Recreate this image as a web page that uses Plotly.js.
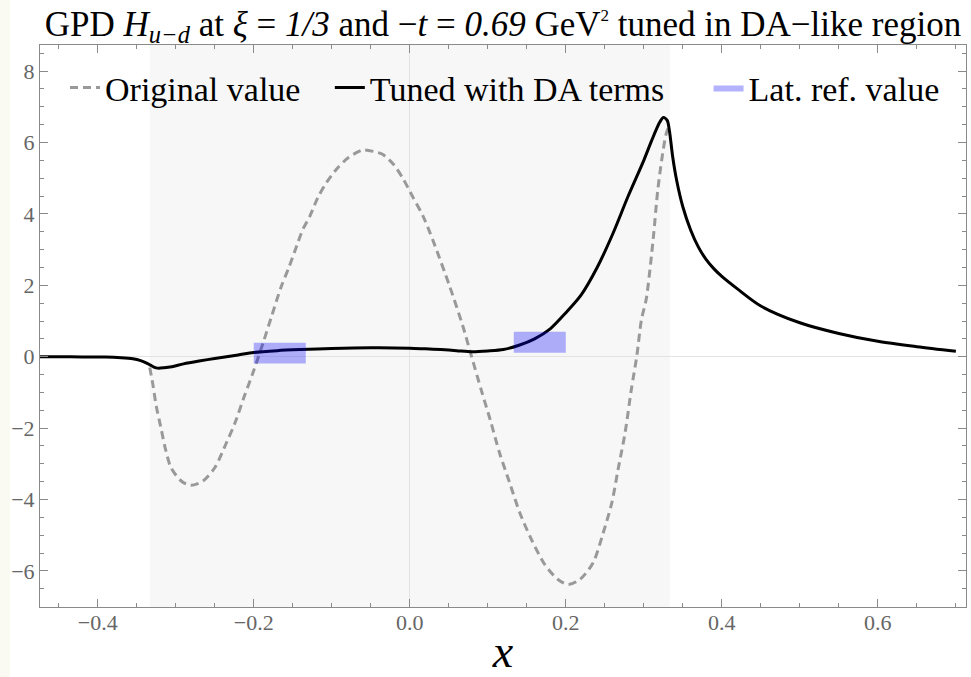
<!DOCTYPE html>
<html>
<head>
<meta charset="utf-8">
<script src="https://cdn.plot.ly/plotly-3.0.1.min.js"></script>
<style>
html,body{margin:0;padding:0;background:#ffffff;}
#chart{width:971px;height:677px;}
</style>
</head>
<body>
<div id="chart"></div>
<script>
// Tuned with DA terms (solid black)
const xTuned = [-0.474, -0.45, -0.42, -0.39, -0.37, -0.355, -0.345, -0.338, -0.333, -0.328, -0.323, -0.315, -0.305, -0.29, -0.27, -0.25, -0.22, -0.20, -0.17, -0.14, -0.10, -0.05, 0.0, 0.02, 0.04, 0.06, 0.08, 0.10, 0.12, 0.14, 0.16, 0.18, 0.20, 0.22, 0.24, 0.26, 0.28, 0.30, 0.31, 0.32, 0.325, 0.33, 0.333, 0.337, 0.342, 0.35, 0.36, 0.37, 0.38, 0.39, 0.40, 0.42, 0.45, 0.50, 0.55, 0.60, 0.65, 0.70];
const yTuned = [0.0, 0.0, -0.005, -0.01, -0.03, -0.06, -0.11, -0.17, -0.23, -0.29, -0.32, -0.31, -0.28, -0.20, -0.12, -0.05, 0.05, 0.12, 0.17, 0.20, 0.23, 0.25, 0.24, 0.22, 0.20, 0.17, 0.14, 0.16, 0.20, 0.32, 0.50, 0.78, 1.23, 1.74, 2.49, 3.43, 4.50, 5.50, 6.05, 6.55, 6.70, 6.62, 6.30, 5.60, 4.95, 4.20, 3.55, 3.07, 2.72, 2.46, 2.25, 1.90, 1.42, 0.95, 0.65, 0.43, 0.28, 0.15];

// Original value (dashed gray)
const xOrig = [-0.3333, -0.329, -0.325, -0.319, -0.313, -0.306, -0.293, -0.281, -0.265, -0.25, -0.235, -0.224, -0.212, -0.201, -0.188, -0.177, -0.165, -0.155, -0.145, -0.137, -0.128, -0.118, -0.107, -0.094, -0.079, -0.06, -0.045, -0.035, -0.021, -0.009, 0.004, 0.017, 0.03, 0.051, 0.068, 0.079, 0.092, 0.103, 0.115, 0.128, 0.141, 0.156, 0.173, 0.19, 0.203, 0.218, 0.235, 0.248, 0.259, 0.267, 0.276, 0.284, 0.291, 0.297, 0.303, 0.312, 0.318, 0.325, 0.329, 0.3333];
const yOrig = [-0.30, -0.82, -1.38, -1.99, -2.60, -3.11, -3.48, -3.60, -3.48, -3.11, -2.41, -1.85, -1.10, -0.45, 0.39, 1.14, 1.95, 2.50, 3.10, 3.57, 3.94, 4.45, 4.87, 5.25, 5.57, 5.79, 5.74, 5.67, 5.39, 5.00, 4.47, 3.94, 3.24, 1.98, 0.86, 0.02, -0.96, -1.76, -2.69, -3.53, -4.37, -5.12, -5.82, -6.24, -6.38, -6.24, -5.77, -4.93, -4.09, -3.16, -2.13, -0.92, 0.02, 1.04, 1.60, 3.29, 4.69, 5.81, 6.27, 6.50];

// Lattice reference values (boxes)
const latXLow  = [-0.2, 0.1333];
const latXHigh = [-0.1333, 0.2];
const latYLow  = [-0.19, 0.11];
const latYHigh = [0.39, 0.70];

// DA-like region bounds
const regionBounds = [-1/3, 1/3];

const xTickVals = [-0.4, -0.2, 0.0, 0.2, 0.4, 0.6];
const xTickText = ['\u22120.4', '\u22120.2', '0.0', '0.2', '0.4', '0.6'];
const yTickVals = [-6, -4, -2, 0, 2, 4, 6, 8];
const yTickText = ['\u22126', '\u22124', '\u22122', '0', '2', '4', '6', '8'];

const serif = 'Liberation Serif';
const legendFont = {family: serif, size: 34, color: '#000'};

const traces = [
  {x: xOrig, y: yOrig, type: 'scatter', mode: 'lines', name: 'Original value',
   line: {color: '#999999', width: 3, dash: '8px,5px', shape: 'spline', smoothing: 0.8},
   legend: 'legend'},
  {x: xTuned, y: yTuned, type: 'scatter', mode: 'lines', name: 'Tuned with DA terms',
   line: {color: '#000000', width: 3, shape: 'spline', smoothing: 0.8},
   legend: 'legend2'}
];
for (let i = 0; i < latXLow.length; i++) {
  traces.push({
    x: [latXLow[i], latXHigh[i], latXHigh[i], latXLow[i], latXLow[i]],
    y: [latYLow[i], latYLow[i], latYHigh[i], latYHigh[i], latYLow[i]],
    type: 'scatter', mode: 'lines', fill: 'toself',
    fillcolor: 'rgba(0,0,255,0.3)', line: {width: 0, color: 'rgba(0,0,255,0.3)'},
    name: 'Lat. ref. value', legendgroup: 'lat', showlegend: i === 0,
    legend: 'legend3'
  });
}

const axisCommon = {
  showline: true, linecolor: '#8a8a8a', linewidth: 1, mirror: 'allticks',
  ticks: 'inside', ticklen: 8, tickwidth: 1, tickcolor: '#8a8a8a',
  showgrid: false, tickfont: {family: serif, size: 22, color: '#666666'}
};

const legY = 0.9235;
const layout = {
  width: 971, height: 677,
  paper_bgcolor: '#ffffff', plot_bgcolor: '#ffffff',
  margin: {l: 40, r: 5, t: 45, b: 70},
  title: {
    text: 'GPD <i>H</i><sub><i>u\u2212d</i></sub> at <i>\u03be</i> = <i>1/3</i> and \u2212<i>t</i> = <i>0.69</i> GeV<sup><span style="font-size:17px">2</span></sup> tuned in DA\u2212like region',
    font: {family: serif, size: 35, color: '#000'},
    x: 0.5, xref: 'paper', xanchor: 'center', y: 0.965, yref: 'container', yanchor: 'middle'
  },
  xaxis: Object.assign({}, axisCommon, {
    range: [-0.474, 0.713], tickvals: xTickVals, ticktext: xTickText,
    minor: {dtick: 0.05, ticklen: 4, tickcolor: '#8a8a8a', ticks: 'inside'},
    zeroline: true, zerolinecolor: '#e3e3e3', zerolinewidth: 1,
    ticklabelstandoff: -4,
    title: {text: '<i>x</i>', font: {family: serif, size: 46, color: '#000'}, standoff: 4}
  }),
  yaxis: Object.assign({}, axisCommon, {
    range: [-7.01, 8.73], tickvals: yTickVals, ticktext: yTickText,
    minor: {dtick: 0.5, ticklen: 4, tickcolor: '#8a8a8a', ticks: 'inside'},
    zeroline: true, zerolinecolor: '#e3e3e3', zerolinewidth: 1
  }),
  shapes: [
    {type: 'rect', xref: 'x', yref: 'paper', x0: regionBounds[0], x1: regionBounds[1], y0: 0, y1: 1,
     fillcolor: '#f7f7f7', line: {width: 0}, layer: 'below'},
    {type: 'rect', xref: 'paper', yref: 'paper', x0: -40/926, x1: -30/926, y0: -70/562, y1: 1 + 45/562,
     fillcolor: '#fafaf3', line: {width: 0}, layer: 'below'}
  ],
  legend: {x: 0.027, y: legY, xanchor: 'left', yanchor: 'middle', orientation: 'h',
           bgcolor: 'rgba(0,0,0,0)', font: legendFont},
  legend2: {x: 0.313, y: legY, xanchor: 'left', yanchor: 'middle', orientation: 'h',
           bgcolor: 'rgba(0,0,0,0)', font: legendFont},
  legend3: {x: 0.722, y: legY, xanchor: 'left', yanchor: 'middle', orientation: 'h',
           bgcolor: 'rgba(0,0,0,0)', font: legendFont},
  showlegend: true
};

Plotly.newPlot('chart', traces, layout, {displayModeBar: false, staticPlot: true});
</script>
</body>
</html>
